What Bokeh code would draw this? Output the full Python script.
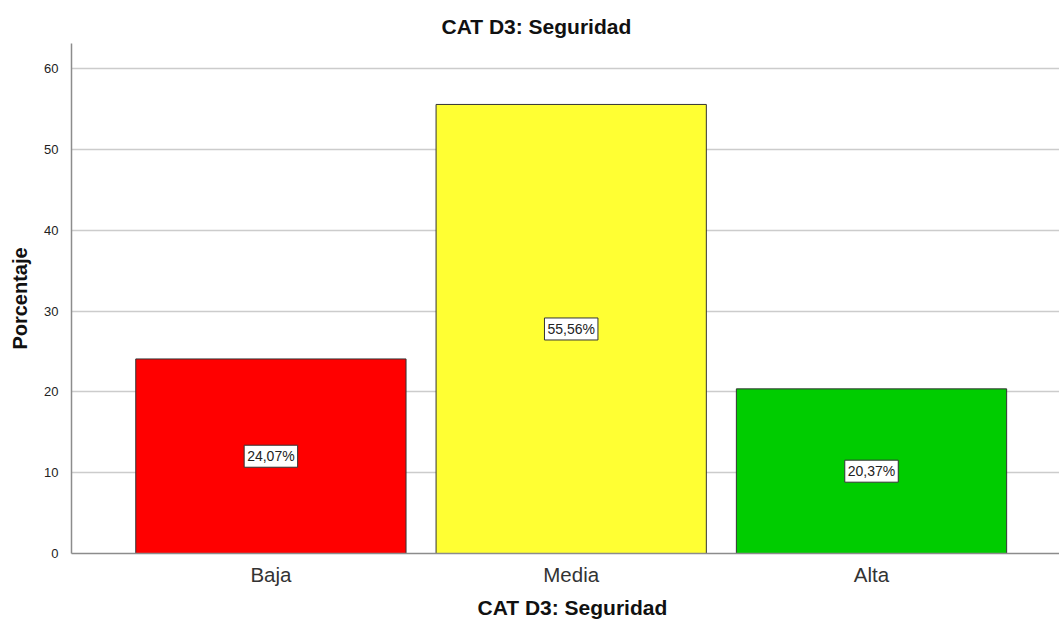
from bokeh.plotting import figure
from bokeh.models import Range1d, FixedTicker, Title, ColumnDataSource
from bokeh.core.properties import value
from bokeh.embed import file_html
from bokeh.resources import INLINE

categories = ["Baja", "Media", "Alta"]
percentages = [24.07, 55.56, 20.37]
bar_colors = ["#ff0000", "#ffff33", "#00cc00"]
label_texts = ["24,07%", "55,56%", "20,37%"]
y_ticks = [0, 10, 20, 30, 40, 50, 60]
title_text = "CAT D3: Seguridad"
x_title = "CAT D3: Seguridad"
y_title = "Porcentaje"

FONT = "Liberation Sans"

idx = list(range(len(categories)))
src = ColumnDataSource(dict(
    x=idx,
    top=percentages,
    mid=[v / 2 for v in percentages],
    color=bar_colors,
    label=label_texts,
))

p = figure(width=1059, height=624, output_backend="svg", toolbar_location=None,
           x_range=Range1d(-0.664, 2.626), y_range=Range1d(0, 63.1),
           min_border_left=71, min_border_right=0, min_border_top=43, min_border_bottom=71,
           title=None)
p.outline_line_color = None
p.background_fill_color = "white"
p.border_fill_color = "white"

p.vbar(x="x", top="top", width=0.9, source=src, fill_color="color",
       line_color="#333333", line_width=1)

p.text(x="x", y="mid", text="label", source=src, text_font=value(FONT),
       text_font_size="14px", text_color="#222222", text_align="center",
       text_baseline="middle", background_fill_color="white",
       border_line_color="#333333", border_line_width=1, padding=3)

# axes
p.xaxis.ticker = FixedTicker(ticks=idx)
p.xaxis.major_label_overrides = {i: c for i, c in zip(idx, categories)}
p.xaxis.major_label_text_font = FONT
p.xaxis.major_label_text_font_size = "20.5px"
p.xaxis.major_label_text_color = "#333333"
p.xaxis.major_label_standoff = 3
p.xaxis.major_tick_line_color = None
p.xaxis.minor_tick_line_color = None
p.xaxis.axis_line_color = "#8c8c8c"
p.xaxis.axis_line_width = 1.5

p.yaxis.ticker = FixedTicker(ticks=y_ticks)
p.yaxis.major_label_text_font = FONT
p.yaxis.major_label_text_font_size = "13px"
p.yaxis.major_label_text_color = "#222222"
p.yaxis.major_label_standoff = 7
p.yaxis.major_tick_line_color = None
p.yaxis.minor_tick_line_color = None
p.yaxis.axis_line_color = "#8c8c8c"
p.yaxis.axis_line_width = 1.5
p.yaxis.axis_label = y_title
p.yaxis.axis_label_text_font = FONT
p.yaxis.axis_label_text_font_size = "20px"
p.yaxis.axis_label_text_font_style = "bold"
p.yaxis.axis_label_text_color = "#111111"
p.yaxis.axis_label_standoff = 10

p.xgrid.grid_line_color = None
p.ygrid.grid_line_color = "#cccccc"
p.ygrid.grid_line_width = 1.5

t = Title(text=title_text, align="left", offset=370, text_font=FONT,
          text_font_size="21px", text_font_style="bold", text_color="#111111",
          standoff=12)
p.add_layout(t, "above")

bt = Title(text=x_title, align="left", offset=406, text_font=FONT,
           text_font_size="21px", text_font_style="bold", text_color="#111111",
           standoff=11)
p.add_layout(bt, "below")

open("out.html", "w").write(file_html(p, INLINE))
